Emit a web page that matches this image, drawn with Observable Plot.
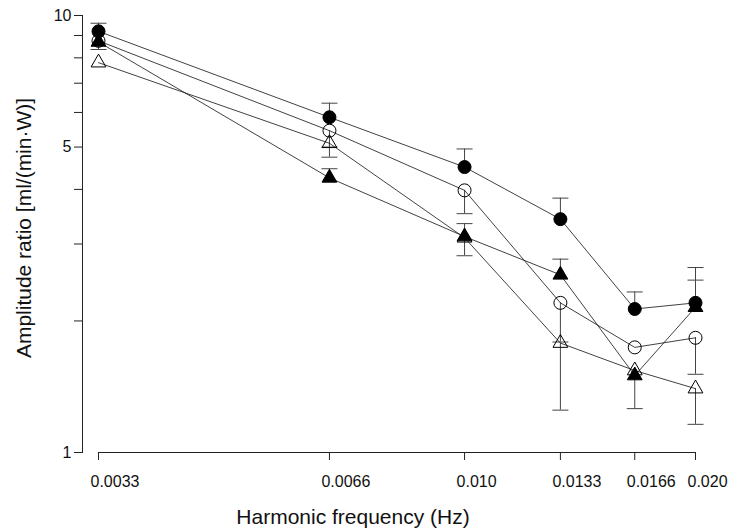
<!DOCTYPE html>
<html>
<head>
<meta charset="utf-8">
<script src="https://cdn.jsdelivr.net/npm/d3@7"></script>
<script src="https://cdn.jsdelivr.net/npm/@observablehq/plot@0.6"></script>
<style>
  body { margin: 0; background: #fff; }
  #chart { width: 737px; height: 530px; }
</style>
</head>
<body>
<div id="chart"></div>
<script>
// Harmonic frequencies (Hz) and their printed tick labels
const freqs = [1/300, 1/150, 1/100, 1/75, 1/60, 1/50];
const tickLabels = ["0.0033", "0.0066", "0.010", "0.0133", "0.0166", "0.020"];
const yTicks = [1, 2, 3, 4, 5, 6, 7, 8, 9, 10];
const yLabelTicks = [1, 5, 10];

// Series: amplitude ratio [ml/(min·W)] and end of the (one-sided) error bar
const filledCircle      = [9.2, 5.85, 4.5, 3.42, 2.13, 2.2];
const filledCircleErr   = [9.6, 6.3, 4.95, 3.82, 2.33, 2.65];
const openCircle        = [8.75, 5.45, 3.98, 2.2, 1.74, 1.83];
const openCircleErr     = [8.36, 4.74, 3.52, 1.79, null, 1.51];
const filledTriangle    = [8.7, 4.25, 3.12, 2.55, 1.5, 2.15];
const filledTriangleErr = [null, 4.46, 3.34, 2.77, null, 2.48];
const openTriangle      = [7.8, 5.1, 3.1, 1.78, 1.54, 1.4];
const openTriangleErr   = [null, 5.0, 2.82, 1.25, 1.26, 1.16];

const series = [
  {name: "openTriangle",   values: openTriangle,   errs: openTriangleErr,   symbol: "triangle", fill: "none"},
  {name: "openCircle",     values: openCircle,     errs: openCircleErr,     symbol: "circle",   fill: "none"},
  {name: "filledTriangle", values: filledTriangle, errs: filledTriangleErr, symbol: "triangle", fill: "black"},
  {name: "filledCircle",   values: filledCircle,   errs: filledCircleErr,   symbol: "circle",   fill: "black"}
];

const rows = series.flatMap(s => freqs.map((f, i) => ({series: s.name, x: f, y: s.values[i], err: s.errs[i]})));
const errRows = rows.filter(d => d.err != null);

// horizontal cap symbol for error bars
const capSymbol = {
  draw(context, size) {
    const w = Math.sqrt(size / Math.PI);
    context.moveTo(-w, 0);
    context.lineTo(w, 0);
  }
};

const font = "'Liberation Sans', Arial, Helvetica, sans-serif";

const chart = Plot.plot({
  width: 737,
  height: 530,
  marginLeft: 82,
  marginRight: 42,
  marginTop: 15,
  marginBottom: 78,
  style: {fontFamily: font, background: "white", color: "#111"},
  x: {type: "log", domain: [freqs[0], freqs[freqs.length - 1]], insetLeft: 16},
  y: {type: "log", domain: [1, 10]},
  marks: [
    Plot.frame({anchor: "left", stroke: "#222", strokeWidth: 1}),
    Plot.ruleY([1], {x1: () => freqs[0], x2: () => freqs[freqs.length - 1], stroke: "#222", strokeWidth: 1}),
    Plot.axisY({ticks: yTicks, tickFormat: d => yLabelTicks.includes(d) ? String(d) : "", tickSize: 8, tickPadding: 3, fontSize: 16, label: null, stroke: "#222"}),
    Plot.axisX({ticks: freqs, tickFormat: () => "", tickSize: 8, label: null, stroke: "#222"}),
    Plot.text(freqs, {x: d => d, text: (d, i) => tickLabels[i], frameAnchor: "bottom", lineAnchor: "middle", dy: 29, dx: -8, textAnchor: "start", fontSize: 16, fill: "#111"}),
    Plot.text(["Harmonic frequency (Hz)"], {text: d => d, frameAnchor: "bottom", lineAnchor: "middle", textAnchor: "middle", dy: 65, dx: -36, fontSize: 21, fill: "#111"}),
    Plot.text(["Amplitude ratio [ml/(min·W)]"], {text: d => d, frameAnchor: "left", textAnchor: "middle", lineAnchor: "middle", rotate: -90, dx: -58, dy: -6, fontSize: 21, fill: "#111"}),
    Plot.ruleX(errRows, {x: "x", y1: "y", y2: "err", stroke: "#444", strokeWidth: 1}),
    Plot.dot(errRows, {x: "x", y: "err", symbol: capSymbol, r: 8, stroke: "#444", strokeWidth: 1, fill: "none"}),
    Plot.line(rows, {x: "x", y: "y", z: "series", stroke: "#111", strokeWidth: 0.8}),
    ...series.map(s => Plot.dot(rows.filter(d => d.series === s.name), {
      x: "x", y: "y", symbol: s.symbol, r: s.symbol === "circle" ? 6.5 : 5.5,
      fill: s.fill, stroke: "black", strokeWidth: 1
    }))
  ]
});

document.getElementById("chart").append(chart);
</script>
</body>
</html>
